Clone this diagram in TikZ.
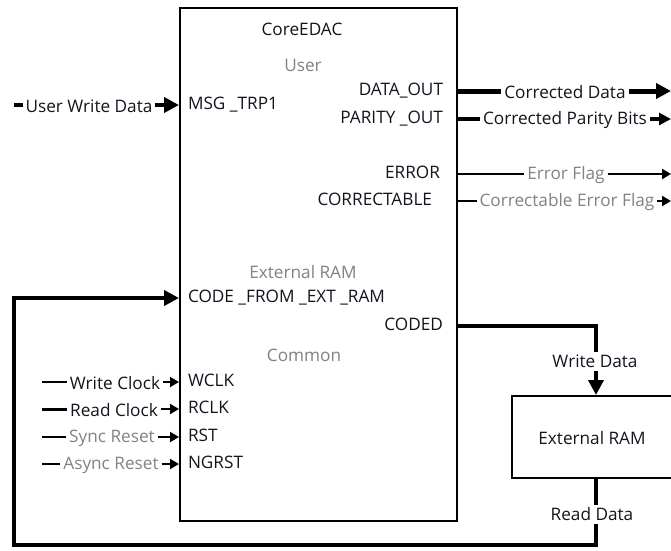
\documentclass[tikz,border=0pt]{standalone}
\usepackage{fontspec}
\setmainfont{Open Sans}
\usetikzlibrary{arrows.meta}
\definecolor{txtgray}{RGB}{130,130,130}
\definecolor{txtblack}{RGB}{20,20,30}
\begin{document}
\begin{tikzpicture}[x=1pt,y=-1pt,
  lbl/.style={inner sep=0pt, outer sep=3pt, text=txtblack, font=\fontsize{17.2}{20}\selectfont},
  glbl/.style={lbl, text=txtgray},
  port/.style={inner sep=0pt, outer sep=0pt, text=txtblack, font=\fontsize{17.2}{20}\selectfont},
  gport/.style={port, text=txtgray},
  blockbox/.style={draw=black, line width=2pt, inner sep=0pt, fill=white},
  heavy/.style={line width=4pt},
  heavier/.style={line width=5pt},
  medium/.style={line width=2.5pt},
  bighead/.style={-{Triangle[length=15pt,width=15pt]}},
  midhead/.style={-{Triangle[length=12pt,width=12pt]}},
  smallhead/.style={-{Triangle[length=9pt,width=10pt]}},
  line cap=butt]
\useasboundingbox (0,0) rectangle (671,550);

% main block
\node[blockbox, minimum width=277pt, minimum height=513pt] (core) at (318.5,264.5) {};
\node[blockbox, minimum width=180pt, minimum height=82pt] (ram) at (602,437) {};
\node[port] (ramlbl) at (592,438.5) {External RAM};

% headings inside core
\node[port] (title) at (302,29.5) {CoreEDAC};
\node[gport] (huser) at (303,65.5) {User};
\node[gport] (hext) at (303,272.5) {External RAM};
\node[gport] (hcom) at (304,355.5) {Common};

% ports
\node[port, anchor=mid west] (msg) at (188,106.5) {MSG \_TRP1};
\node[port, anchor=mid east] (dout) at (443,92.5) {DATA\_OUT};
\node[port, anchor=mid east] (pout) at (443,120.5) {PARITY \_OUT};
\node[port, anchor=mid east] (err) at (440,175.5) {ERROR};
\node[port, anchor=mid east] (corr) at (432,202.5) {CORRECTABLE};
\node[port, anchor=mid west] (cfe) at (188,299.5) {CODE \_FROM \_EXT \_RAM};
\node[port, anchor=mid east] (coded) at (443,327.5) {CODED};
\node[port, anchor=mid west] (wclk) at (188,383.5) {WCLK};
\node[port, anchor=mid west] (rclk) at (188,410.5) {RCLK};
\node[port, anchor=mid west] (rst) at (188,438.5) {RST};
\node[port, anchor=mid west] (ngrst) at (188,465.5) {NGRST};

% left inputs
\coordinate (uwdS) at (14,105);
\node[lbl] (uwd) at (89,106.5) {User Write Data};
\draw[heavy] (uwdS) -- (uwd.west |- uwdS);
\draw[heavy, bighead] (uwd.east |- uwdS) -- (core.west |- uwdS);

\coordinate (wcS) at (42,382);
\node[lbl] (wc) at (115,383.5) {Write Clock};
\draw[line width=2.5pt] (wcS) -- (wc.west |- wcS);
\draw[line width=2pt, smallhead] (wc.east |- wcS) -- (core.west |- wcS);

\coordinate (rcS) at (42,409);
\node[lbl] (rc) at (114,410.5) {Read Clock};
\draw[line width=3pt] (rcS) -- (rc.west |- rcS);
\draw[line width=2pt, smallhead] (rc.east |- rcS) -- (core.west |- rcS);

\coordinate (srS) at (42,437);
\node[glbl] (sr) at (112,438.5) {Sync Reset};
\draw[line width=2.5pt] (srS) -- (sr.west |- srS);
\draw[line width=2pt, smallhead] (sr.east |- srS) -- (core.west |- srS);

\coordinate (arS) at (42,464);
\node[glbl] (ar) at (111,465.5) {Async Reset};
\draw[line width=2.5pt] (arS) -- (ar.west |- arS);
\draw[line width=2pt, smallhead] (ar.east |- arS) -- (core.west |- arS);

% right outputs
\coordinate (cdE) at (671,91);
\node[lbl] (cd) at (565,92.5) {Corrected Data};
\draw[heavier] (core.east |- cdE) -- (cd.west |- cdE);
\draw[heavier, bighead] (cd.east |- cdE) -- (cdE);

\coordinate (cpE) at (671,119);
\node[lbl] (cp) at (565,120.5) {Corrected Parity Bits};
\draw[heavy] (core.east |- cpE) -- (cp.west |- cpE);
\draw[heavy, midhead] (cp.east |- cpE) -- (cpE);

\coordinate (efE) at (671,174);
\node[glbl] (ef) at (566,175.5) {Error Flag};
\draw[medium] (core.east |- efE) -- (ef.west |- efE);
\draw[medium, smallhead] (ef.east |- efE) -- (efE);

\coordinate (cefE) at (671,201);
\node[glbl] (cef) at (567,202.5) {Correctable Error Flag};
\draw[line width=1.5pt] (core.east |- cefE) -- (cef.west |- cefE);
\draw[line width=2pt, smallhead] (cef.east |- cefE) -- (cefE);

% external RAM loop
\node[lbl] (wd) at (595,361.5) {Write Data};
\node[lbl] (rd) at (592,514.5) {Read Data};
\coordinate (codedY) at (457,326);
\coordinate (bendA) at (596,326);
\coordinate (bendB) at (596,545);
\coordinate (bendC) at (14,545);
\coordinate (bendD) at (14,298);
\draw[heavy] (core.east |- codedY) -- (bendA) -- (bendA |- wd.north);
\draw[heavy, bighead] (bendA |- wd.south) -- (bendA |- ram.north);
\draw[heavy] (bendA |- ram.south) -- (bendA |- rd.north);
\draw[heavy, line join=miter] (bendA |- rd.south) -- (bendB) -- (bendC) -- (bendD) -- ++(10,0);
\draw[heavy, bighead] (bendD) -- (core.west |- bendD);
\end{tikzpicture}
\end{document}
